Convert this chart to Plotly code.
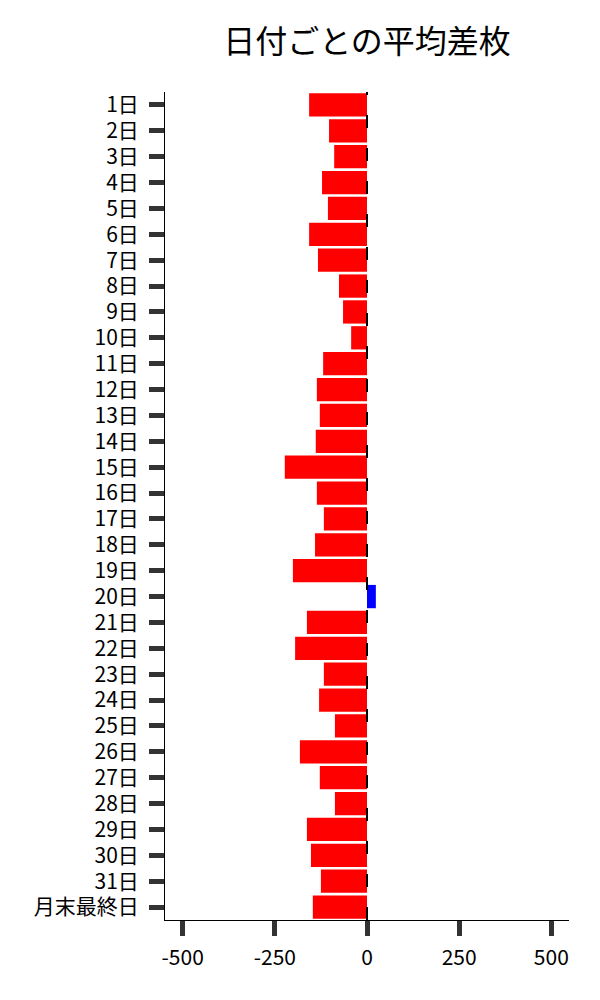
"""日付ごとの平均差枚の横棒グラフ。"""

import plotly.graph_objects as go

days = [f"{d}日" for d in range(1, 32)] + ["月末最終日"]
avg_diff = [
    -157, -103, -89, -122, -106, -157, -133, -76, -65, -43,
    -119, -136, -128, -139, -223, -136, -117, -141, -201, 24,
    -163, -195, -117, -130, -87, -182, -128, -87, -163, -152,
    -125, -147,
]
x_ticks = [-500, -250, 0, 250, 500]

FONT = "Noto Sans CJK JP"
colors = ["#0000ff" if v > 0 else "#ff0000" for v in avg_diff]

fig = go.Figure(
    go.Bar(
        x=avg_diff,
        y=days,
        orientation="h",
        marker=dict(color=colors, line=dict(width=0)),
        showlegend=False,
    )
)

# ゼロ位置の破線
fig.add_shape(
    type="line",
    xref="x",
    yref="paper",
    x0=0,
    x1=0,
    y0=0,
    y1=1,
    line=dict(color="black", width=2, dash="13px,20px"),
    layer="above",
)

fig.update_layout(
    width=600,
    height=1000,
    margin=dict(l=157, r=39, t=84, b=88),
    paper_bgcolor="white",
    plot_bgcolor="white",
    bargap=0.1,
    font=dict(family=FONT, color="black", size=21),
    title=dict(
        text="日付ごとの平均差枚",
        x=0.5,
        xref="paper",
        y=0.966,
        yanchor="middle",
        font=dict(family=FONT, size=32, color="black"),
    ),
)

fig.update_xaxes(
    range=[-548, 548],
    tickvals=x_ticks,
    ticktext=[str(v) for v in x_ticks],
    showgrid=False,
    zeroline=False,
    showline=True,
    linecolor="black",
    linewidth=1,
    ticks="outside",
    ticklen=15,
    tickwidth=5,
    tickcolor="#333333",
    ticklabelstandoff=4,
    tickfont=dict(family=FONT, size=21, color="black"),
)

fig.update_yaxes(
    autorange="reversed",
    showgrid=False,
    zeroline=False,
    showline=True,
    linecolor="black",
    linewidth=1,
    ticks="outside",
    ticklen=15,
    tickwidth=5,
    tickcolor="#333333",
    ticklabelstandoff=6,
    tickfont=dict(family=FONT, size=21, color="black"),
)

fig.write_html("out.html")
